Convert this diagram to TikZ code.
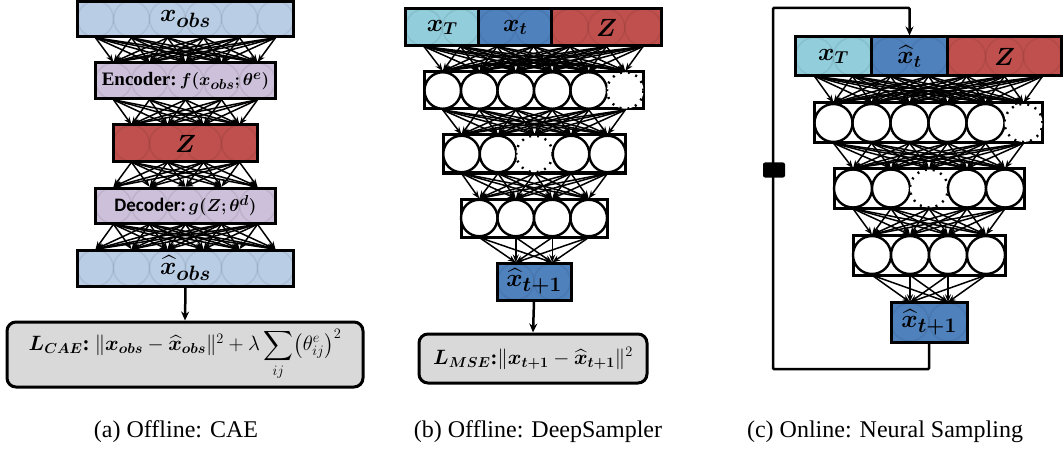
\documentclass[tikz,border=0pt]{standalone}
\usepackage{fontspec}
\usepackage{amsmath,bm}
\usepackage{tikz}
\usetikzlibrary{arrows.meta, positioning, calc}
\setmainfont{Liberation Serif}
\newfontfamily\calibri{Carlito}
\definecolor{obsblue}{RGB}{185, 205, 229}
\definecolor{encpurple}{RGB}{204, 192, 218}
\definecolor{latentred}{RGB}{192, 80, 77}
\definecolor{horizoncyan}{RGB}{146, 205, 220}
\definecolor{stateblue}{RGB}{79, 129, 189}
\definecolor{lossgray}{RGB}{217, 217, 217}

\begin{document}
\begin{tikzpicture}[x=1pt, y=-1pt,
    layerbox/.style={draw, line width=3pt, inner sep=0pt},
    neuron/.style={circle, draw, line width=2.4pt, fill=white, inner sep=0pt},
    dropneuron/.style={circle, draw, line width=2.4pt, dash pattern=on 2pt off 6pt, fill=white, inner sep=0pt},
    ghost/.style={circle, draw=black, draw opacity=0.07, line width=1.5pt, inner sep=0pt},
    link/.style={-{Stealth[length=8pt, width=6pt]}, line width=1.5pt},
    lossbox/.style={draw, line width=3pt, fill=lossgray, rounded corners=9pt, inner sep=0pt},
    flow/.style={-{Stealth[length=9pt, width=8pt]}, line width=2.5pt},
    bigtext/.style={font=\fontsize{29}{33}\selectfont},
    midtext/.style={font=\fontsize{24}{28}\selectfont},
    outtext/.style={font=\fontsize{28}{32}\selectfont},
    smalltext/.style={font=\fontsize{19}{22}\selectfont},
    caption/.style={font=\fontsize{24}{28}\selectfont, anchor=base}]
    \useasboundingbox (0,0) rectangle (1064,449);

    % (a) Offline: CAE
    \node[layerbox, fill=obsblue, minimum width=216pt, minimum height=35pt, bigtext] (obs) at (185.5,19) {$\bm{x_{obs}}$};
    \foreach \i in {1,...,6} \node[ghost, minimum size=36pt] (obs-\i) at ({185.5+(\i-3.5)*36},19) {};
    \node[layerbox, fill=encpurple, minimum width=180pt, minimum height=36pt, smalltext] (enc) at (185.5,81) {\textbf{Encoder:}\,$\bm{f(x_{obs};\theta^{e})}$};
    \foreach \i in {1,...,5} \node[ghost, minimum size=36pt] (enc-\i) at ({185.5+(\i-3)*36},81) {};
    \node[layerbox, fill=latentred, minimum width=144pt, minimum height=37pt, bigtext] (code) at (185.5,143.5) {$\bm{Z}$};
    \foreach \i in {1,...,4} \node[ghost, minimum size=36pt] (code-\i) at ({185.5+(\i-2.5)*36},143.5) {};
    \node[layerbox, fill=encpurple, minimum width=180pt, minimum height=35pt, smalltext] (dec) at (185.5,205.5) {{\calibri\bfseries Decoder:}\,$\bm{g(Z;\theta^{d})}$};
    \foreach \i in {1,...,5} \node[ghost, minimum size=36pt] (dec-\i) at ({185.5+(\i-3)*36},205.5) {};
    \node[layerbox, fill=obsblue, minimum width=216pt, minimum height=36pt, bigtext] (rec) at (185.5,268) {$\bm{\widehat{x}_{obs}}$};
    \foreach \i in {1,...,6} \node[ghost, minimum size=36pt] (rec-\i) at ({185.5+(\i-3.5)*36},268) {};
    \node[lossbox, minimum width=356pt, minimum height=65pt, font=\fontsize{21}{24}\selectfont] (cae-loss) at (185,354.5)
        {$\bm{L_{CAE}}\textbf{:}\ \|\bm{x_{obs}}-\bm{\widehat{x}_{obs}}\|^2+\lambda\displaystyle\sum_{ij}\bigl(\theta^{e}_{ij}\bigr)^2$};

    \foreach \i in {1,...,6} \foreach \j in {1,...,5} \draw[link] (obs-\i.south) -- (enc-\j.north);
    \foreach \i in {1,...,5} \foreach \j in {1,...,4} \draw[link] (enc-\i.south) -- (code-\j.north);
    \foreach \i in {1,...,4} \foreach \j in {1,...,5} \draw[link] (code-\i.south) -- (dec-\j.north);
    \foreach \i in {1,...,5} \foreach \j in {1,...,6} \draw[link] (dec-\i.south) -- (rec-\j.north);
    \draw[flow] (rec.south) -- (cae-loss.north);

    % (b) Offline: DeepSampler
    \node[layerbox, fill=horizoncyan, minimum width=73pt, minimum height=37pt, midtext] (b-xT) at (442.25,27.5) {$\bm{x_T}$};
    \node[layerbox, fill=stateblue, minimum width=73pt, minimum height=37pt, midtext] (b-xt) at (515.25,27.5) {$\bm{x_t}$};
    \node[layerbox, fill=latentred, minimum width=109.5pt, minimum height=37pt, midtext] (b-z) at (606.5,27.5) {$\bm{Z}$};
    \foreach \i in {1,...,7} \node[ghost, minimum size=36.5pt] (b0-\i) at ({533.5+(\i-4)*36.5},27.5) {};
    \node[layerbox, minimum width=219pt, minimum height=37pt] (b1) at (534,90.5) {};
    \foreach \i/\s in {1/neuron,2/neuron,3/neuron,4/neuron,5/neuron,6/dropneuron}
        \node[\s, minimum size=36.5pt] (b1-\i) at ({534+(\i-3.5)*36.5},90.5) {};
    \node[layerbox, minimum width=182.5pt, minimum height=38pt] (b2) at (534.5,154) {};
    \foreach \i/\s in {1/neuron,2/neuron,3/dropneuron,4/neuron,5/neuron}
        \node[\s, minimum size=36.5pt] (b2-\i) at ({534.5+(\i-3)*36.5},154) {};
    \node[layerbox, minimum width=146pt, minimum height=38pt] (b3) at (534,218) {};
    \foreach \i in {1,...,4} \node[neuron, minimum size=36.5pt] (b3-\i) at ({534+(\i-2.5)*36.5},218) {};
    \node[layerbox, fill=stateblue, minimum width=74pt, minimum height=37pt, outtext] (b-out) at (534,281.5) {$\bm{\widehat{x}_{t+1}}$};
    \foreach \i in {1,2} \node[ghost, minimum size=36.5pt] (b4-\i) at ({534+(\i-1.5)*36.5},281.5) {};
    \node[lossbox, minimum width=228pt, minimum height=49pt, font=\fontsize{20.5}{24}\selectfont] (mse-loss) at (533,358.5)
        {$\bm{L_{MSE}}\textbf{:}\|\bm{x_{t+1}}-\bm{\widehat{x}_{t+1}}\|^2$};

    \foreach \i in {1,...,7} \foreach \j in {1,...,6} \draw[link] (b0-\i.south) -- (b1-\j.north);
    \foreach \i in {1,...,6} \foreach \j in {1,...,5} \draw[link] (b1-\i.south) -- (b2-\j.north);
    \foreach \i in {1,...,5} \foreach \j in {1,...,4} \draw[link] (b2-\i.south) -- (b3-\j.north);
    \foreach \i in {1,...,4} \foreach \j in {1,2} \draw[link] (b3-\i.south) -- (b4-\j.north);
    \draw[flow] (b-out.south) -- (mse-loss.north);

    % (c) Online: Neural Sampling
    \node[layerbox, fill=horizoncyan, minimum width=76pt, minimum height=39pt, midtext] (c-xT) at (833.5,56.5) {$\bm{x_T}$};
    \node[layerbox, fill=stateblue, minimum width=76pt, minimum height=39pt, midtext] (c-xhat) at (909.5,56.5) {$\bm{\widehat{x}_t}$};
    \node[layerbox, fill=latentred, minimum width=114pt, minimum height=39pt, midtext] (c-z) at (1004.5,56.5) {$\bm{Z}$};
    \foreach \i in {1,...,7} \node[ghost, minimum size=38pt] (c0-\i) at ({928.5+(\i-4)*38},56.5) {};
    \node[layerbox, minimum width=228pt, minimum height=40pt] (c1) at (928.5,123) {};
    \foreach \i/\s in {1/neuron,2/neuron,3/neuron,4/neuron,5/neuron,6/dropneuron}
        \node[\s, minimum size=38pt] (c1-\i) at ({928.5+(\i-3.5)*38},123) {};
    \node[layerbox, minimum width=190pt, minimum height=39pt] (c2) at (929,188.5) {};
    \foreach \i/\s in {1/neuron,2/neuron,3/dropneuron,4/neuron,5/neuron}
        \node[\s, minimum size=38pt] (c2-\i) at ({929+(\i-3)*38},188.5) {};
    \node[layerbox, minimum width=152pt, minimum height=40pt] (c3) at (929,255) {};
    \foreach \i in {1,...,4} \node[neuron, minimum size=38pt] (c3-\i) at ({929+(\i-2.5)*38},255) {};
    \node[layerbox, fill=stateblue, minimum width=76pt, minimum height=40pt, outtext] (c-out) at (929,322) {$\bm{\widehat{x}_{t+1}}$};
    \foreach \i in {1,2} \node[ghost, minimum size=38pt] (c4-\i) at ({929+(\i-1.5)*38},322) {};

    \foreach \i in {1,...,7} \foreach \j in {1,...,6} \draw[link] (c0-\i.south) -- (c1-\j.north);
    \foreach \i in {1,...,6} \foreach \j in {1,...,5} \draw[link] (c1-\i.south) -- (c2-\j.north);
    \foreach \i in {1,...,5} \foreach \j in {1,...,4} \draw[link] (c2-\i.south) -- (c3-\j.north);
    \foreach \i in {1,...,4} \foreach \j in {1,2} \draw[link] (c3-\i.south) -- (c4-\j.north);

    % Feedback loop
    \coordinate (fb-low) at (773,369);
    \coordinate (fb-high) at (773,8);
    \draw[flow, rounded corners=1pt] (c-out.south) |- (fb-low) -- (fb-high) -| (c-xhat.north);
    \node[fill=black, rounded corners=2pt, minimum width=22pt, minimum height=15pt, inner sep=0pt] (delay) at (774,170) {};

    % Captions
    \node[caption] (cap-a) at (176,437) {(a) Offline: CAE};
    \node[caption] (cap-b) at (538,437) {(b) Offline: DeepSampler};
    \node[caption] (cap-c) at (885,437) {(c) Online: Neural Sampling};
\end{tikzpicture}
\end{document}
